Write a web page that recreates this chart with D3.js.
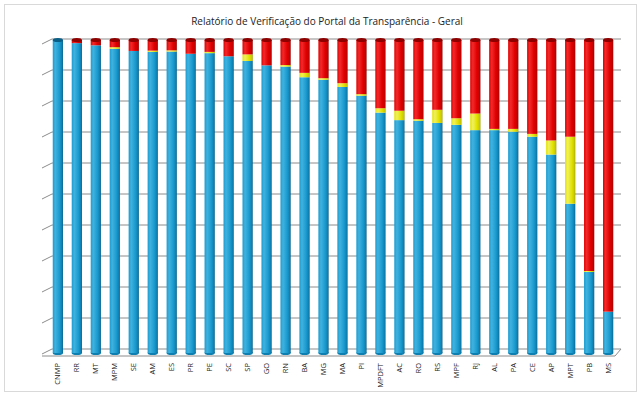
<!DOCTYPE html>
<html>
<head>
<meta charset="utf-8">
<script src="https://cdn.jsdelivr.net/npm/d3@7"></script>
<style>
  body { margin: 0; background: #fff; }
  svg { display: block; font-family: "Open Sans", "Liberation Sans", sans-serif; }
</style>
</head>
<body>
<div id="chart"></div>
<script>
// Categories and shares (%)
const categories = ["CNMP","RR","MT","MPM","SE","AM","ES","PR","PE","SC","SP","GO","RN","BA","MG",
  "MA","PI","MPDFT","AC","RO","RS","MPF","RJ","AL","PA","CE","AP","MPT","PB","MS"];
const blue   = [100, 99.0, 98.3, 97.2, 96.5, 96.2, 96.3, 95.6, 95.8, 94.8, 93.3, 91.9, 91.5, 88.1, 87.3,
  85.0, 82.2, 76.8, 74.4, 74.2, 73.5, 72.9, 71.2, 71.2, 70.7, 69.1, 63.4, 47.7, 25.9, 13.2];
const yellow = [0, 0, 0, 0.5, 0, 0.4, 0.4, 0, 0.4, 0, 2.1, 0, 0.5, 1.4, 0.5,
  1.2, 0.5, 1.4, 3.0, 0.5, 4.2, 2.1, 5.3, 0.4, 0.9, 0.9, 4.5, 21.4, 0.3, 0];
const red = blue.map((b, i) => Math.max(0, 100 - b - yellow[i]));
const yTicks = d3.range(0, 101, 10);

const W = 640, H = 396;
const depth = {dx: 10, dy: -5};

const svg = d3.select("#chart").append("svg")
  .attr("width", W)
  .attr("height", H);

// outer border
svg.append("rect")
  .attr("x", 4.5).attr("y", 4.5)
  .attr("width", 632).attr("height", 387)
  .attr("fill", "#fff")
  .attr("stroke", "#d9d9d9");

svg.append("text")
  .attr("x", 327).attr("y", 25)
  .attr("text-anchor", "middle")
  .attr("font-size", 10)
  .attr("fill", "#222")
  .text("Relatório de Verificação do Portal da Transparência - Geral");

// Scales
const x = d3.scaleBand()
  .domain(categories)
  .range([48, 618])
  .paddingInner(0.46)
  .paddingOuter(0.25);

// back wall scale
const yWall = d3.scaleLinear().domain([0, 100]).range([349, 39]);
// bar scale (bars sit a bit in front of the wall)
const yBar = d3.scaleLinear().domain([0, 100]).range([353, 40]);

const wallLeft = 52, wallRight = 621;

// gridlines on back wall
svg.append("g")
  .selectAll("line")
  .data(yTicks)
  .join("line")
  .attr("x1", wallLeft).attr("x2", wallRight)
  .attr("y1", d => yWall(d)).attr("y2", d => yWall(d))
  .attr("stroke", "#8c8c8c")
  .attr("stroke-width", 1);

// diagonal ticks on the left side
svg.append("g")
  .selectAll("line")
  .data(yTicks)
  .join("line")
  .attr("x1", wallLeft - depth.dx).attr("y1", d => yWall(d) - depth.dy)
  .attr("x2", wallLeft).attr("y2", d => yWall(d))
  .attr("stroke", "#8c8c8c");

// floor front edge and right edge
svg.append("path")
  .attr("d", `M${wallLeft - depth.dx},${yWall(0) - depth.dy + 2}` +
             `H${wallRight - depth.dx + 4}L${wallRight},${yWall(0)}`)
  .attr("fill", "none")
  .attr("stroke", "#8c8c8c");

// gradients for cylinders
const defs = svg.append("defs");
const palettes = {
  blue:   ["#41b2de", "#1b9bd0", "#0d7fb0", "#0a5f86"],
  yellow: ["#f0f060", "#e2e200", "#c8c800", "#9a9a00"],
  red:    ["#f22a2a", "#e00000", "#c40000", "#8f0000"]
};
Object.entries(palettes).forEach(([k, c]) => {
  const g = defs.append("linearGradient").attr("id", "g-" + k)
    .attr("x1", 0).attr("x2", 1).attr("y1", 0).attr("y2", 0);
  g.append("stop").attr("offset", "0%").attr("stop-color", c[1]);
  g.append("stop").attr("offset", "25%").attr("stop-color", c[0]);
  g.append("stop").attr("offset", "65%").attr("stop-color", c[1]);
  g.append("stop").attr("offset", "90%").attr("stop-color", c[2]);
  g.append("stop").attr("offset", "100%").attr("stop-color", c[3]);
});

const stack = categories.map((c, i) => ({
  cat: c,
  segs: [
    {key: "blue",   y0: 0, y1: blue[i]},
    {key: "yellow", y0: blue[i], y1: blue[i] + yellow[i]},
    {key: "red",    y0: blue[i] + yellow[i], y1: 100}
  ].filter(s => s.y1 - s.y0 > 0.05)
}));

const bw = x.bandwidth();
const ry = 2;

const bars = svg.append("g")
  .selectAll("g")
  .data(stack)
  .join("g")
  .attr("transform", d => `translate(${x(d.cat)},0)`);

// bottom ellipse
bars.append("ellipse")
  .attr("cx", bw / 2).attr("cy", yBar(0))
  .attr("rx", bw / 2).attr("ry", ry)
  .attr("fill", d => palettes[d.segs[0].key][2]);

bars.selectAll("rect")
  .data(d => d.segs)
  .join("rect")
  .attr("x", 0)
  .attr("width", bw)
  .attr("y", s => yBar(s.y1))
  .attr("height", s => yBar(s.y0) - yBar(s.y1))
  .attr("fill", s => `url(#g-${s.key})`);

// top cap
bars.append("ellipse")
  .attr("cx", bw / 2).attr("cy", yBar(100))
  .attr("rx", bw / 2).attr("ry", ry)
  .attr("fill", d => palettes[d.segs[d.segs.length - 1].key][3]);

// category labels
svg.append("g")
  .selectAll("text")
  .data(categories)
  .join("text")
  .attr("transform", d => `translate(${x(d) + bw / 2 + 2.5},363) rotate(-90)`)
  .attr("text-anchor", "end")
  .attr("font-size", 7.5)
  .attr("fill", "#222")
  .text(d => d);
</script>
</body>
</html>
